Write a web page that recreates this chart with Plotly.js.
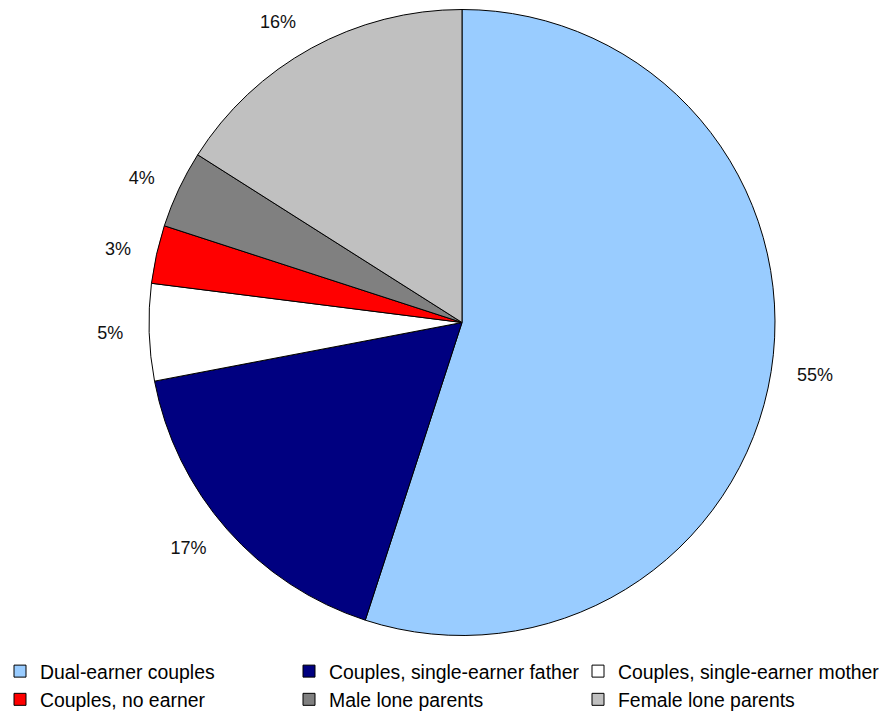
<!DOCTYPE html>
<html>
<head>
<meta charset="utf-8">
<script src="https://cdn.plot.ly/plotly-3.0.1.min.js"></script>
<style>
  html, body { margin: 0; padding: 0; background: #ffffff; overflow: hidden; }
  /* canvas is a little taller than the page so the label ring has room above the pie */
  #chart { width: 893px; height: 727px; margin-top: -12px; }
  /* let the last legend column run to its full length */
  #chart .legend .scrollbox { clip-path: none !important; }
</style>
</head>
<body>
<div id="chart"></div>
<script>
// Household types, share of total (per cent)
const categories = [
  "Dual-earner couples",
  "Couples, single-earner father",
  "Couples, single-earner mother",
  "Couples, no earner",
  "Male lone parents",
  "Female lone parents"
];
const shares = [55, 17, 5, 3, 4, 16];
const sliceColors = ["#99CCFF", "#000080", "#FFFFFF", "#FF0000", "#808080", "#C0C0C0"];

const W = 893, H = 727;
const FONT = "Arial, 'Liberation Sans', sans-serif";

// the pie itself
const pie = {
  type: "pie",
  labels: categories,
  values: shares,
  sort: false,
  direction: "clockwise",
  rotation: 0,
  marker: { colors: sliceColors, line: { color: "#000000", width: 1 } },
  textinfo: "none",
  hoverinfo: "label+percent",
  domain: { x: [149 / W, 775 / W], y: [1 - 648 / H, 1 - 21 / H] }
};

// transparent, slightly wider ring that carries the percentage labels outside the pie
const labelRing = {
  type: "pie",
  labels: categories,
  values: shares,
  sort: false,
  direction: "clockwise",
  rotation: 0,
  showlegend: false,
  hoverinfo: "skip",
  marker: { colors: categories.map(() => "rgba(0,0,0,0)"), line: { width: 0 } },
  textposition: "outside",
  texttemplate: "%{value}%",
  textfont: { family: FONT, size: 18, color: "#111111" },
  domain: { x: [128 / W, 796 / W], y: [1 - 668.5 / H, 1 - 0.5 / H] }
};

const layout = {
  width: W,
  height: H,
  margin: { l: 0, r: 0, t: 0, b: 0, autoexpand: false },
  paper_bgcolor: "#ffffff",
  showlegend: true,
  legend: {
    orientation: "h",
    x: 0,
    xanchor: "left",
    y: 1 - 664 / H,
    yanchor: "top",
    entrywidth: 244,
    entrywidthmode: "pixels",
    traceorder: "normal",
    font: { family: FONT, size: 19.4, color: "#000000" },
    bgcolor: "rgba(0,0,0,0)"
  }
};

Plotly.newPlot("chart", [pie, labelRing], layout, { displayModeBar: false, staticPlot: true });
</script>
</body>
</html>
